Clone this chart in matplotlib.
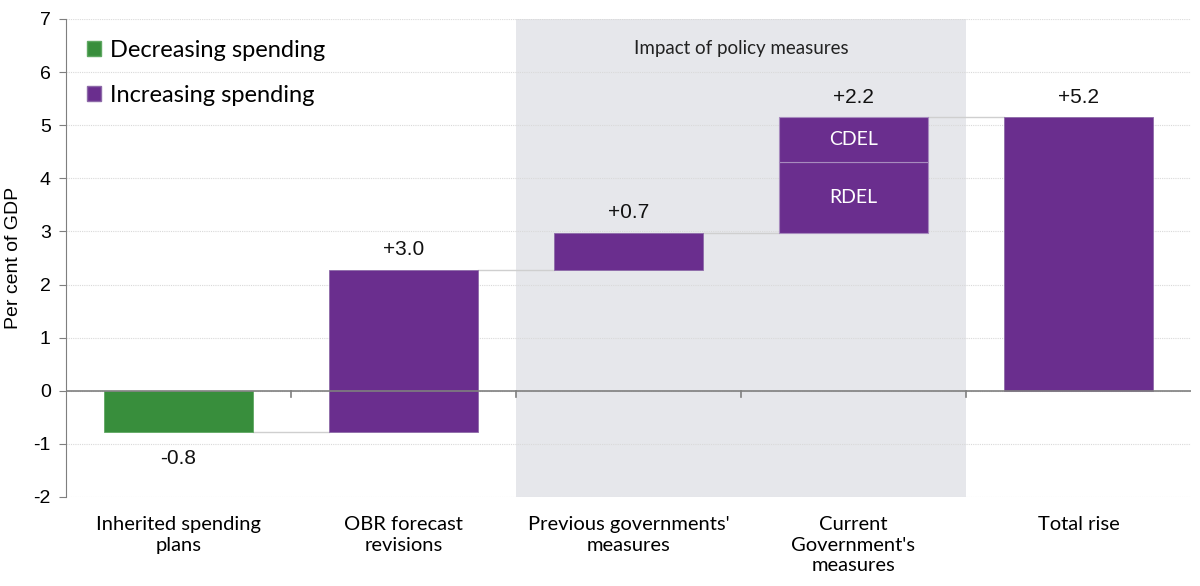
import numpy as np
import matplotlib.pyplot as plt
from matplotlib.patches import Patch

# data
categories = ["Inherited spending\nplans", "OBR forecast\nrevisions",
              "Previous governments'\nmeasures", "Current\nGovernment's\nmeasures",
              "Total rise"]
changes = [-0.77, 3.04, 0.70]
current_parts = [1.33, 0.85]          # RDEL, CDEL
part_names = ["RDEL", "CDEL"]
labels = ["-0.8", "+3.0", "+0.7", "+2.2", "+5.2"]
yticks = list(range(-2, 8))

green = '#388E3C'
purple = '#6A2E8E'
grid_c = '#D9D9D9'
conn_c = '#CFCFCF'
num_font = 'Liberation Sans'
txt_font = 'Lato'

fig = plt.figure(figsize=(12, 5.86), dpi=100)
ax = fig.add_axes([0.055, 0.152, 0.9375, 0.8156])
x = np.arange(len(categories))
w = 0.66

ax.set_xlim(-0.5, 4.5)
ax.set_ylim(-2, 7)

# shaded policy region
ax.axvspan(1.5, 3.5, color='#E6E7EB', zorder=0, lw=0)
ax.text(2.5, 6.45, "Impact of policy measures", ha='center', va='center',
        fontsize=13.5, family=txt_font, color='#222222')

for yv in yticks:
    ax.axhline(yv, color=grid_c, lw=0.8, ls=(0, (1, 1)), zorder=1)
ax.axhline(0, color='#7F7F7F', lw=1.2, zorder=4)
for b in np.arange(0.5, 4.5, 1.0):
    ax.plot([b, b], [0, -0.11], color='#7F7F7F', lw=1.2, zorder=4)

# waterfall
cum = 0.0
ends = []
for i, v in enumerate(changes):
    bottom = cum
    col = green if v < 0 else purple
    ax.bar(x[i], v, w, bottom=bottom, color=col, edgecolor='#8D6AA8' if v > 0 else '#5FA862',
           lw=0.6, zorder=3)
    cum += v
    ends.append(cum)

# current government's measures split
base = cum
for part, name in zip(current_parts, part_names):
    ax.bar(x[3], part, w, bottom=base, color=purple, edgecolor='#A78BBE', lw=0.8, zorder=3)
    ax.text(x[3], base + part / 2, name, ha='center', va='center', color='white',
            fontsize=14, family=txt_font, zorder=5)
    base += part
cum = base
ends.append(cum)

# total
ax.bar(x[4], cum, w, bottom=0, color=purple, edgecolor='#8D6AA8', lw=0.6, zorder=3)

# connectors
for i, lvl in enumerate(ends):
    ax.plot([x[i] + w / 2, x[i + 1] - w / 2], [lvl, lvl], color=conn_c, lw=1.0, zorder=2)

# value labels
tops = [0.0, ends[1], ends[2], ends[3], cum]
for i, lab in enumerate(labels):
    if i == 0:
        ax.text(x[i], ends[0] - 0.5, lab, ha='center', va='center', fontsize=15,
                family=num_font, color='#111111')
    else:
        ax.text(x[i], tops[i] + 0.38, lab, ha='center', va='center', fontsize=15,
                family=num_font, color='#111111')

# axes styling
ax.set_yticks(yticks)
ax.set_yticklabels([str(t) for t in yticks], family=num_font, fontsize=14)
ax.set_xticks(x)
ax.set_xticklabels(categories, family=txt_font, fontsize=14.5, linespacing=1.25)
ax.tick_params(axis='x', length=0, pad=14)
ax.tick_params(axis='y', length=5, color='#7F7F7F', pad=6)
for s in ['top', 'right', 'bottom']:
    ax.spines[s].set_visible(False)
ax.spines['left'].set_color('#7F7F7F')
ax.set_ylabel("Per cent of GDP", family=num_font, fontsize=14, labelpad=8)

handles = [Patch(facecolor=green, edgecolor='#5FA862', label="Decreasing spending"),
           Patch(facecolor=purple, edgecolor='#8D6AA8', label="Increasing spending")]
ax.legend(handles=handles, loc='upper left', bbox_to_anchor=(0.0, 1.0), frameon=False,
          prop={'family': txt_font, 'size': 17}, handlelength=0.6, handleheight=0.6,
          handletextpad=0.35, labelspacing=1.0, borderaxespad=0.5)

fig.savefig("out.png", dpi=100)
